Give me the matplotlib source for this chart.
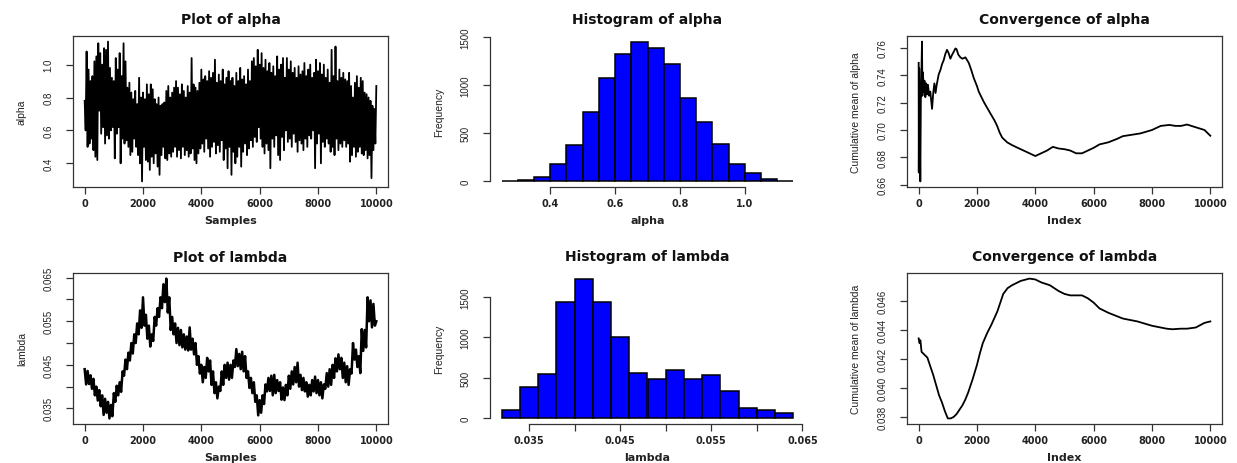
import numpy as np
import matplotlib
matplotlib.use("Agg")
import matplotlib.pyplot as plt
from matplotlib import font_manager

plt.rcParams['path.simplify'] = False

# ---------------- data ----------------
alpha_trace = [
    0.78, 0.60, 1.08, 0.50, 0.97, 0.52, 0.90, 0.55, 0.93, 0.48, 1.02, 0.44, 1.05, 0.42, 1.13, 0.72, 1.07, 0.58, 1.00, 0.62, 1.10, 0.52, 1.09, 0.57, 1.14, 0.55, 0.98, 0.60, 0.92, 0.62,
    0.90, 0.43, 1.04, 0.58, 0.97, 0.62, 1.07, 0.40, 0.93, 0.55, 1.13, 0.52, 1.02, 0.54, 0.86, 0.50, 0.89, 0.45, 0.83, 0.47, 0.79, 0.55, 0.84, 0.50, 0.76, 0.45, 0.92, 0.40, 0.80, 0.29,
    0.83, 0.50, 0.79, 0.42, 0.88, 0.41, 0.82, 0.36, 0.88, 0.44, 0.85, 0.40, 0.79, 0.46, 0.76, 0.38, 0.80, 0.33, 0.75, 0.45, 0.76, 0.50, 0.77, 0.43, 0.84, 0.42, 0.87, 0.46, 0.80, 0.44,
    0.83, 0.47, 0.86, 0.50, 0.90, 0.44, 0.86, 0.48, 0.82, 0.43, 0.88, 0.50, 0.84, 0.45, 0.80, 0.48, 0.87, 0.44, 0.83, 0.46, 1.04, 0.49, 0.88, 0.42, 0.86, 0.40, 0.84, 0.46, 0.89, 0.49,
    0.97, 0.52, 0.91, 0.47, 0.93, 0.55, 0.90, 0.49, 0.96, 0.44, 0.92, 0.50, 0.95, 0.53, 1.03, 0.46, 0.89, 0.51, 0.94, 0.47, 0.90, 0.54, 0.97, 0.42, 0.88, 0.49, 0.92, 0.37, 0.96, 0.50,
    0.90, 0.33, 0.92, 0.47, 0.87, 0.40, 0.95, 0.44, 0.90, 0.50, 0.98, 0.38, 0.91, 0.47, 0.93, 0.52, 0.88, 0.45, 0.97, 0.49, 0.90, 0.54, 1.02, 0.50, 1.04, 0.56, 0.99, 0.53, 1.09, 0.62,
    1.00, 0.55, 1.07, 0.50, 0.98, 0.46, 1.03, 0.52, 0.96, 0.48, 1.01, 0.37, 0.95, 0.55, 0.99, 0.50, 0.93, 0.57, 1.05, 0.45, 0.97, 0.42, 1.00, 0.56, 1.04, 0.48, 0.92, 0.60, 1.04, 0.53,
    0.97, 0.55, 1.02, 0.50, 0.95, 0.58, 0.98, 0.53, 0.92, 0.47, 0.99, 0.54, 0.94, 0.52, 0.96, 0.48, 1.01, 0.55, 0.93, 0.50, 0.97, 0.57, 1.00, 0.55, 0.92, 0.60, 0.95, 0.37, 1.03, 0.52,
    0.96, 0.58, 1.01, 0.40, 0.94, 0.53, 1.00, 0.50, 0.92, 0.55, 0.97, 0.52, 0.89, 0.47, 1.09, 0.50, 0.93, 0.45, 1.11, 0.55, 0.90, 0.48, 0.97, 0.52, 0.92, 0.50, 0.95, 0.54, 0.91, 0.50,
    0.90, 0.52, 0.95, 0.41, 0.87, 0.45, 0.80, 0.50, 0.89, 0.44, 0.93, 0.47, 0.86, 0.50, 0.92, 0.46, 0.90, 0.45, 0.83, 0.48, 0.82, 0.43, 0.80, 0.45, 0.78, 0.31, 0.75, 0.48, 0.73, 0.52, 0.87,
]

lambda_trace = [
    0.0440, 0.0405, 0.0436, 0.0406, 0.0426, 0.0395, 0.0418, 0.0380, 0.0400, 0.0368, 0.0392, 0.0355, 0.0380, 0.0335, 0.0372, 0.0340, 0.0365, 0.0327, 0.0358, 0.0332,
    0.0385, 0.0365, 0.0402, 0.0380, 0.0410, 0.0388, 0.0435, 0.0425, 0.0462, 0.0440, 0.0478, 0.0460, 0.0500, 0.0476, 0.0520, 0.0500, 0.0545, 0.0520, 0.0575, 0.0535,
    0.0605, 0.0540, 0.0565, 0.0510, 0.0540, 0.0492, 0.0520, 0.0505, 0.0560, 0.0540, 0.0580, 0.0560, 0.0605, 0.0580, 0.0635, 0.0594, 0.0648, 0.0570, 0.0605, 0.0530,
    0.0560, 0.0520, 0.0545, 0.0500, 0.0535, 0.0495, 0.0530, 0.0490, 0.0520, 0.0485, 0.0515, 0.0483, 0.0536, 0.0485, 0.0510, 0.0474, 0.0500, 0.0450, 0.0470, 0.0430,
    0.0450, 0.0410, 0.0445, 0.0420, 0.0466, 0.0435, 0.0460, 0.0404, 0.0435, 0.0385, 0.0410, 0.0373, 0.0400, 0.0390, 0.0435, 0.0404, 0.0450, 0.0420, 0.0455, 0.0416,
    0.0450, 0.0420, 0.0460, 0.0445, 0.0486, 0.0447, 0.0475, 0.0440, 0.0480, 0.0435, 0.0470, 0.0420, 0.0435, 0.0397, 0.0420, 0.0385, 0.0410, 0.0365, 0.0380, 0.0334,
    0.0369, 0.0340, 0.0380, 0.0360, 0.0405, 0.0389, 0.0420, 0.0390, 0.0425, 0.0380, 0.0427, 0.0385, 0.0415, 0.0390, 0.0410, 0.0370, 0.0398, 0.0369, 0.0404, 0.0380,
    0.0425, 0.0395, 0.0435, 0.0405, 0.0445, 0.0410, 0.0455, 0.0400, 0.0427, 0.0392, 0.0420, 0.0389, 0.0410, 0.0377, 0.0404, 0.0380, 0.0415, 0.0389, 0.0423, 0.0385,
    0.0415, 0.0380, 0.0410, 0.0373, 0.0405, 0.0395, 0.0431, 0.0400, 0.0440, 0.0404, 0.0450, 0.0420, 0.0465, 0.0435, 0.0474, 0.0440, 0.0466, 0.0420, 0.0455, 0.0410,
    0.0447, 0.0404, 0.0440, 0.0430, 0.0500, 0.0462, 0.0485, 0.0445, 0.0470, 0.0431, 0.0532, 0.0482, 0.0530, 0.0490, 0.0605, 0.0550, 0.0598, 0.0536, 0.0590, 0.0540, 0.0550,
]

alpha_breaks = [0.25, 0.30, 0.35, 0.40, 0.45, 0.50, 0.55, 0.60, 0.65, 0.70, 0.75, 0.80, 0.85, 0.90, 0.95, 1.00, 1.05, 1.10, 1.15]
alpha_counts = [2, 14, 45, 178, 373, 719, 1078, 1325, 1451, 1381, 1217, 868, 617, 391, 185, 91, 28, 4]

lambda_breaks = [0.032, 0.034, 0.036, 0.038, 0.040, 0.042, 0.044, 0.046, 0.048, 0.050, 0.052, 0.054, 0.056, 0.058, 0.060, 0.062, 0.064]
lambda_counts = [99, 385, 547, 1442, 1728, 1442, 1007, 564, 493, 597, 481, 535, 336, 133, 104, 66]

conv_alpha_index = [1, 5, 20, 40, 58, 75, 90, 115, 130, 150, 170, 200, 230, 260, 290, 320, 360, 400, 460, 500,
                    540, 580, 620, 688, 750, 802, 860, 916, 973, 1030, 1088, 1150, 1202, 1260, 1300, 1360, 1431, 1500,
                    1603, 1718, 1800, 1889, 2000, 2061, 2233, 2462, 2600, 2691, 2780, 2863, 3035, 3200, 3436, 3600,
                    3800, 4000, 4200, 4400, 4600, 4800, 5000, 5200, 5400, 5600, 5800, 6000, 6200, 6500, 6800, 7000,
                    7300, 7600, 8000, 8300, 8600, 8800, 9000, 9200, 9500, 9800, 10000]
conv_alpha_mean = [0.749, 0.669, 0.745, 0.700, 0.6625, 0.720, 0.735, 0.7645, 0.725, 0.742, 0.728, 0.736, 0.724, 0.734, 0.726, 0.733, 0.725, 0.728, 0.7154, 0.727,
                   0.734, 0.727, 0.733, 0.7406, 0.744, 0.748, 0.751, 0.7555, 0.7585, 0.756, 0.752, 0.755, 0.757, 0.7595, 0.759, 0.755, 0.753, 0.752,
                   0.753, 0.749, 0.744, 0.738, 0.732, 0.728, 0.7205, 0.712, 0.707, 0.703, 0.698, 0.6945, 0.691, 0.689, 0.6866, 0.685,
                   0.683, 0.681, 0.683, 0.685, 0.6877, 0.6865, 0.686, 0.685, 0.683, 0.683, 0.685, 0.687, 0.6895, 0.691, 0.6935, 0.6955,
                   0.6965, 0.6975, 0.700, 0.703, 0.7037, 0.703, 0.703, 0.704, 0.702, 0.700, 0.6958]

conv_lambda_index = [1, 30, 60, 100, 150, 200, 300, 400, 500, 600, 700, 800, 900, 1000, 1100, 1200, 1300, 1400, 1500,
                     1600, 1700, 1850, 2000, 2100, 2200, 2350, 2500, 2700, 2800, 2900, 3050, 3200, 3500, 3800, 4000,
                     4200, 4500, 4800, 5000, 5200, 5600, 5800, 6000, 6200, 6500, 7000, 7500, 8000, 8500, 8700, 9000,
                     9200, 9500, 9800, 10000]
conv_lambda_mean = [0.04343, 0.0431, 0.0433, 0.0425, 0.0424, 0.0423, 0.0421, 0.0415, 0.0409, 0.0402, 0.0395, 0.0390, 0.0384, 0.0379, 0.0379, 0.0380, 0.0382, 0.0385, 0.0388,
                    0.0392, 0.0397, 0.0406, 0.0416, 0.0424, 0.0431, 0.0438, 0.0444, 0.0453, 0.0459, 0.0465, 0.0469, 0.0471, 0.0474, 0.04756, 0.0475,
                    0.0473, 0.0471, 0.0467, 0.0465, 0.0464, 0.0464, 0.0462, 0.0459, 0.0455, 0.0452, 0.0448, 0.0446, 0.0443, 0.0441, 0.04406, 0.0441,
                    0.0441, 0.04418, 0.0445, 0.0446]

n_samples = 10000
index_ticks = [0, 2000, 4000, 6000, 8000, 10000]

# ---------------- style ----------------
names = {f.name for f in font_manager.fontManager.ttflist}
NARROW = 'Liberation Sans Narrow' if 'Liberation Sans Narrow' in names else 'Liberation Sans'
AXC = '#333333'
TXT = '#222222'

W, H = 1237, 464
fig = plt.figure(figsize=(W / 100, H / 100), dpi=100)

col_left = [73, 490, 907]
row_top = [37, 274]
aw, ah = 315, 151


def make_ax(r, c):
    l, t = col_left[c], row_top[r]
    return fig.add_axes([l / W, 1 - (t + ah) / H, aw / W, ah / H])


def rlim(lo, hi):
    d = (hi - lo) * 0.04
    return lo - d, hi + d


def style(ax, title, xlabel, ylabel, yticks, ylabels, xticks, xlabels):
    ax.set_title(title, fontsize=10, fontweight='bold', color='#111111', pad=9,
                 family='DejaVu Sans')
    ax.set_xticks(xticks)
    ax.set_xticklabels(xlabels, fontsize=7, fontweight='bold', color=TXT, family='DejaVu Sans')
    ax.set_yticks(yticks)
    ax.set_yticklabels(ylabels, fontsize=7, color=TXT, family=NARROW, rotation=90, va='center')
    ax.tick_params(axis='both', direction='out', length=5, width=0.9, color=AXC)
    ax.tick_params(axis='x', pad=3)
    ax.tick_params(axis='y', pad=9)
    ax.set_xlabel(xlabel, fontsize=8, fontweight='bold', color=TXT, family='DejaVu Sans', labelpad=5)
    ax.set_ylabel(ylabel, fontsize=7.5, color=TXT, family=NARROW, labelpad=12)
    for s in ax.spines.values():
        s.set_color(AXC)
        s.set_linewidth(0.9)


# ---- trace alpha ----
ax = make_ax(0, 0)
xa = np.linspace(1, n_samples, len(alpha_trace))
ax.plot(xa, alpha_trace, color='black', lw=1.3)
ax.set_xlim(*rlim(1, n_samples))
ax.set_ylim(*rlim(min(alpha_trace), max(alpha_trace)))
style(ax, 'Plot of alpha', 'Samples', 'alpha',
      [0.4, 0.6, 0.8, 1.0], ['0.4', '0.6', '0.8', '1.0'], index_ticks, [str(v) for v in index_ticks])

# ---- hist alpha ----
ax = make_ax(0, 1)
ab = np.array(alpha_breaks)
ax.bar(ab[:-1], alpha_counts, width=np.diff(ab), align='edge', color='#0000FF',
       edgecolor='black', linewidth=1.1)
ax.set_xlim(*rlim(ab[0], ab[-1]))
ax.set_ylim(*rlim(0, max(alpha_counts)))
style(ax, 'Histogram of alpha', 'alpha', 'Frequency',
      [0, 500, 1000, 1500], ['0', '500', '1000', '1500'], [0.4, 0.6, 0.8, 1.0], ['0.4', '0.6', '0.8', '1.0'])
ax.spines['top'].set_visible(False)
ax.spines['right'].set_visible(False)
ax.spines['left'].set_bounds(0, 1500)
ax.spines['bottom'].set_bounds(0.4, 1.0)

# ---- convergence alpha ----
ax = make_ax(0, 2)
ax.plot(conv_alpha_index, conv_alpha_mean, color='black', lw=1.3)
ax.set_xlim(*rlim(1, n_samples))
ax.set_ylim(*rlim(min(conv_alpha_mean), max(conv_alpha_mean)))
style(ax, 'Convergence of alpha', 'Index', 'Cumulative mean of alpha',
      [0.66, 0.68, 0.70, 0.72, 0.74, 0.76], ['0.66', '0.68', '0.70', '0.72', '0.74', '0.76'],
      index_ticks, [str(v) for v in index_ticks])

# ---- trace lambda ----
ax = make_ax(1, 0)
xl = np.linspace(1, n_samples, len(lambda_trace))
ax.plot(xl, lambda_trace, color='black', lw=1.8)
ax.set_xlim(*rlim(1, n_samples))
ax.set_ylim(*rlim(min(lambda_trace), max(lambda_trace)))
style(ax, 'Plot of lambda', 'Samples', 'lambda',
      [0.035, 0.040, 0.045, 0.050, 0.055, 0.060, 0.065], ['0.035', '', '0.045', '', '0.055', '', '0.065'],
      index_ticks, [str(v) for v in index_ticks])

# ---- hist lambda ----
ax = make_ax(1, 1)
lb = np.array(lambda_breaks)
ax.bar(lb[:-1], lambda_counts, width=np.diff(lb), align='edge', color='#0000FF',
       edgecolor='black', linewidth=1.1)
ax.set_xlim(*rlim(lb[0], lb[-1]))
ax.set_ylim(*rlim(0, max(lambda_counts)))
style(ax, 'Histogram of lambda', 'lambda', 'Frequency',
      [0, 500, 1000, 1500], ['0', '500', '1000', '1500'],
      [0.035, 0.040, 0.045, 0.050, 0.055, 0.060, 0.065], ['0.035', '', '0.045', '', '0.055', '', '0.065'])
ax.spines['top'].set_visible(False)
ax.spines['right'].set_visible(False)
ax.spines['left'].set_bounds(0, 1500)
ax.spines['bottom'].set_bounds(0.035, 0.065)

# ---- convergence lambda ----
ax = make_ax(1, 2)
ax.plot(conv_lambda_index, conv_lambda_mean, color='black', lw=1.3)
ax.set_xlim(*rlim(1, n_samples))
ax.set_ylim(*rlim(min(conv_lambda_mean), max(conv_lambda_mean)))
style(ax, 'Convergence of lambda', 'Index', 'Cumulative mean of lambda',
      [0.038, 0.040, 0.042, 0.044, 0.046], ['0.038', '0.040', '0.042', '0.044', '0.046'],
      index_ticks, [str(v) for v in index_ticks])

fig.savefig('out.png', dpi=100, facecolor='white')
